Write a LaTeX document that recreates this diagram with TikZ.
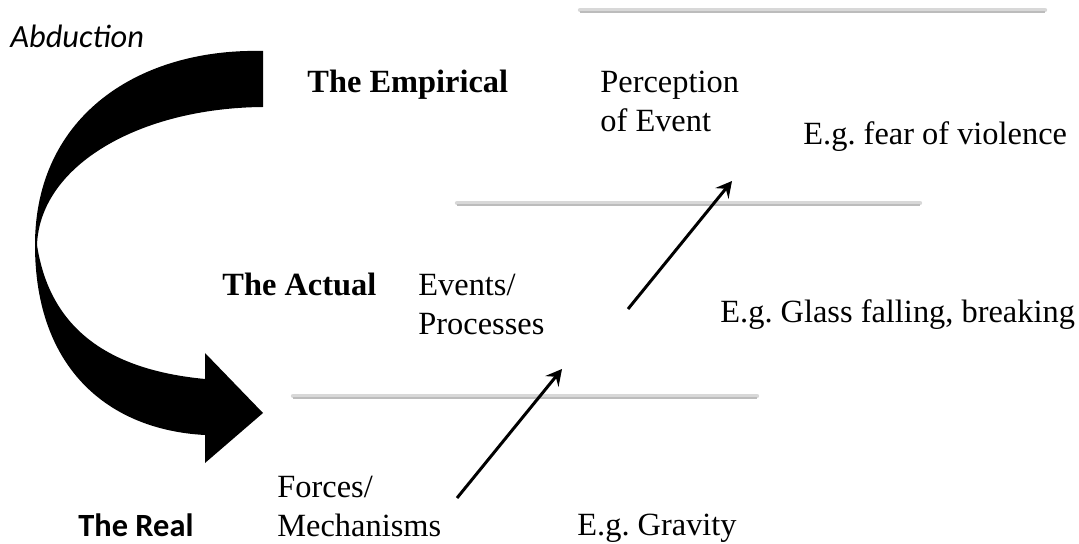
\documentclass[tikz,border=0pt]{standalone}
\usepackage{fontspec}
\setmainfont{Liberation Serif}
\newfontfamily\carlito{Carlito}
\usepackage{tikz}
\usetikzlibrary{arrows.meta, positioning}
\definecolor{strataline}{HTML}{d8d8d8}
\definecolor{stratashade}{HTML}{bcbcbc}
\tikzset{
  level/.style={font=\bfseries, anchor=base west, inner sep=0pt},
  entity/.style={align=left, anchor=base west, inner sep=0pt},
  example/.style={anchor=base west, inner sep=0pt},
  stratum/.style={draw=strataline, line width=2.2pt, line cap=round},
  shade/.style={draw=stratashade, line width=1pt},
  arrow/.style={-{Stealth[length=8pt,width=8.5pt,inset=3pt]}, line width=1.5pt}
}
\frenchspacing

\begin{document}
\fontsize{16.2}{19.5}\selectfont
\begin{tikzpicture}[x=0.5pt, y=-0.5pt]
  \useasboundingbox (0,0) rectangle (1079,544);

  % strata
  \draw[stratum] (580,10) -- (1045,10);
  \draw[shade] (580,12) -- (1045,12);
  \draw[stratum] (457,203) -- (920,203);
  \draw[shade] (457,205) -- (920,205);
  \draw[stratum] (293,396) -- (757,396);
  \draw[shade] (293,398) -- (757,398);

  % abduction arrow
  \fill (263,51) .. controls (140,48) and (35,115) .. (35,245)
    .. controls (35,370) and (110,430) .. (205,435)
    -- (205,463) -- (263,413) -- (205,353) -- (205,379)
    .. controls (110,370) and (50,330) .. (37,245)
    .. controls (40,165) and (140,108) .. (263,107) -- cycle;

  \node[example, font=\carlito\itshape] (abd) at (10,48) {Abduction};

  % base anchor of a two-line node sits on its last line
  \node[level] (emp) at (307,93) {The Empirical};
  \node[entity] (perc) at (600,132) {Perception\\of Event};
  \node[example] (fear) at (803,145) {E.g. fear of violence};

  \node[level] (act) at (222,296) {The Actual};
  \node[entity] (evt) at (418,335) {Events/\\Processes};
  \node[example] (glass) at (720,323) {E.g. Glass falling, breaking};

  \node[level, font=\carlito\bfseries] (real) at (78,536) {The Real};
  \node[entity] (mech) at (277,536) {Forces/\\Mechanisms};
  \node[example] (grav) at (577,535) {E.g. Gravity};

  \coordinate (mechout) at (457,498);
  \coordinate (evtin) at (562,369);
  \coordinate (evtout) at (628,309);
  \coordinate (percin) at (732,181);

  \draw[arrow] (mechout) -- (evtin);
  \draw[arrow] (evtout) -- (percin);
\end{tikzpicture}
\end{document}
